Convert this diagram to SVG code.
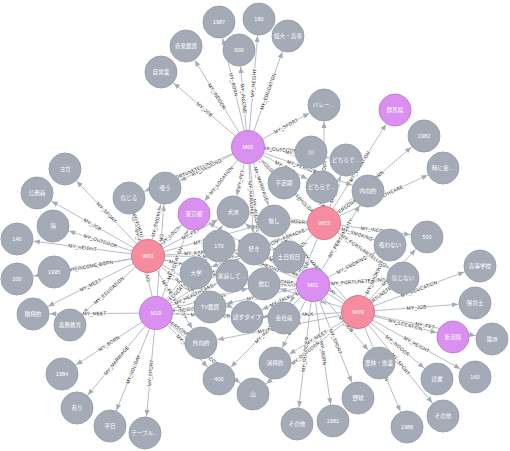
<svg xmlns="http://www.w3.org/2000/svg" width="510" height="451" viewBox="0 0 510 451">
<style>
.e{stroke:#A5ABB6;stroke-width:0.8;fill:none}
.te{marker-end:url(#ah)}
.ts{marker-start:url(#ahs)}
.lb{font-family:"Liberation Sans","Noto Sans CJK JP",sans-serif;font-size:4.9px;fill:#111;stroke:#fff;stroke-width:1.3;stroke-linejoin:round;paint-order:stroke;text-anchor:middle}
.n circle{fill:#A5ABB6;stroke:#9AA1AC;stroke-width:1}
.w circle{fill:#F58CA0;stroke:#E2748A}
.m circle{fill:#D990F0;stroke:#C47AD9}
.n text{font-family:"Liberation Sans","Noto Sans CJK JP",sans-serif;font-size:5.6px;fill:#fff;text-anchor:middle}
</style>
<defs>
<marker id="ah" markerUnits="userSpaceOnUse" markerWidth="40" markerHeight="20" refX="0" refY="0" orient="auto" overflow="visible"><path d="M-23,-2.6L-17,0L-23,2.6Z" fill="#A5ABB6"/></marker>
<marker id="ahs" markerUnits="userSpaceOnUse" markerWidth="40" markerHeight="20" refX="0" refY="0" orient="auto-start-reverse" overflow="visible"><path d="M-23,-2.6L-17,0L-23,2.6Z" fill="#A5ABB6"/></marker>
</defs>
<g id="connectors">
<path id="e1" class="e ts" d="M161 72L248 147"/>
<path id="e2" class="e ts" d="M186 46L248 147"/>
<path id="e3" class="e ts" d="M219 22L248 147"/>
<path id="e4" class="e ts" d="M239 50L248 147"/>
<path id="e5" class="e te" d="M248 147L259 19"/>
<path id="e6" class="e te" d="M248 147L288 36"/>
<path id="e7" class="e te" d="M248 147L324 105"/>
<path id="e8" class="e te" d="M248 147L311 152"/>
<path id="e9" class="e te" d="M248 147L346 160"/>
<path id="e10" class="e te" d="M248 147L284 183"/>
<path id="e11" class="e te" d="M248 147L322 187"/>
<path id="e12" class="e te" d="M248 147L368 191"/>
<path id="e13" class="e te" d="M248 147L274 221"/>
<path id="e14" class="e te" d="M248 147L264 284"/>
<path id="e15" class="e te" d="M248 147L254 249"/>
<path id="e16" class="e ts" d="M233 212L248 147"/>
<path id="e17" class="e ts" d="M194 214L248 147"/>
<path id="e18" class="e ts" d="M165 188L248 147"/>
<path id="e19" class="e ts" d="M129 198L248 147"/>
<path id="e20" class="e ts" d="M65 169L148 256"/>
<path id="e21" class="e ts" d="M37 193L148 256"/>
<path id="e22" class="e ts" d="M53 226L148 256"/>
<path id="e23" class="e ts" d="M17 239L148 256"/>
<path id="e24" class="e ts" d="M54 272L148 256"/>
<path id="e25" class="e ts" d="M17 279L148 256"/>
<path id="e26" class="e ts" d="M33 314L148 256"/>
<path id="e27" class="e ts" d="M70 325L148 256"/>
<path id="e28" class="e ts" d="M129 198L148 256"/>
<path id="e29" class="e te" d="M148 256L165 188"/>
<path id="e30" class="e te" d="M148 256L194 214"/>
<path id="e31" class="e te" d="M148 256L233 212"/>
<path id="e32" class="e te" d="M148 256L254 249"/>
<path id="e33" class="e te" d="M148 256L264 284"/>
<path id="e34" class="e te" d="M148 256L232 276"/>
<path id="e35" class="e te" d="M148 256L201 343"/>
<path id="e36" class="e te" d="M148 256L247 317"/>
<path id="e37" class="e te" d="M148 256L210 307"/>
<path id="e38" class="e te" d="M148 256L274 221"/>
<path id="e39" class="e te" d="M148 256L289 257"/>
<path id="e40" class="e ts" d="M62 374L156 313"/>
<path id="e41" class="e ts" d="M77 408L156 313"/>
<path id="e42" class="e ts" d="M110 426L156 313"/>
<path id="e43" class="e ts" d="M145 433L156 313"/>
<path id="e44" class="e te" d="M156 313L219 246"/>
<path id="e45" class="e te" d="M156 313L196 273"/>
<path id="e46" class="e te" d="M156 313L210 307"/>
<path id="e47" class="e te" d="M156 313L247 317"/>
<path id="e48" class="e te" d="M156 313L201 343"/>
<path id="e49" class="e te" d="M156 313L219 379"/>
<path id="e50" class="e te" d="M156 313L253 394"/>
<path id="e51" class="e te" d="M156 313L284 318"/>
<path id="e52" class="e te" d="M156 313L264 284"/>
<path id="e53" class="e te" d="M156 313L254 249"/>
<path id="e54" class="e te" d="M156 313L232 276"/>
<path id="e55" class="e te" d="M156 313L233 212"/>
<path id="e56" class="e te" d="M156 313L194 214"/>
<path id="e57" class="e te" d="M156 313L165 188"/>
<path id="e58" class="e ts" d="M129 198L156 313"/>
<path id="e59" class="e ts" d="M33 314L156 313"/>
<path id="e60" class="e te" d="M313 285L379 363"/>
<path id="e61" class="e te" d="M313 285L358 398"/>
<path id="e62" class="e te" d="M313 285L333 421"/>
<path id="e63" class="e ts" d="M297 424L313 285"/>
<path id="e64" class="e ts" d="M275 363L313 285"/>
<path id="e65" class="e te" d="M313 285L403 278"/>
<path id="e66" class="e te" d="M313 285L390 245"/>
<path id="e67" class="e ts" d="M219 379L313 285"/>
<path id="e68" class="e ts" d="M289 257L313 285"/>
<path id="e69" class="e ts" d="M264 284L313 285"/>
<path id="e70" class="e ts" d="M254 249L313 285"/>
<path id="e71" class="e ts" d="M219 246L313 285"/>
<path id="e72" class="e ts" d="M196 273L313 285"/>
<path id="e73" class="e ts" d="M233 212L313 285"/>
<path id="e74" class="e ts" d="M274 221L313 285"/>
<path id="e75" class="e ts" d="M194 214L313 285"/>
<path id="e76" class="e ts" d="M247 317L313 285"/>
<path id="e77" class="e te" d="M313 285L368 191"/>
<path id="e78" class="e ts" d="M232 276L313 285"/>
<path id="e79" class="e ts" d="M210 307L313 285"/>
<path id="e80" class="e te" d="M324 223L395 110"/>
<path id="e81" class="e te" d="M324 223L424 136"/>
<path id="e82" class="e te" d="M324 223L443 168"/>
<path id="e83" class="e te" d="M324 223L368 191"/>
<path id="e84" class="e te" d="M324 223L427 237"/>
<path id="e85" class="e te" d="M324 223L390 245"/>
<path id="e86" class="e te" d="M324 223L403 278"/>
<path id="e87" class="e te" d="M324 223L346 160"/>
<path id="e88" class="e ts" d="M322 187L324 223"/>
<path id="e89" class="e ts" d="M311 152L324 223"/>
<path id="e90" class="e ts" d="M324 105L324 223"/>
<path id="e91" class="e ts" d="M284 183L324 223"/>
<path id="e92" class="e ts" d="M274 221L324 223"/>
<path id="e93" class="e ts" d="M254 249L324 223"/>
<path id="e94" class="e ts" d="M264 284L324 223"/>
<path id="e95" class="e ts" d="M196 273L324 223"/>
<path id="e96" class="e ts" d="M284 318L324 223"/>
<path id="e97" class="e ts" d="M233 212L324 223"/>
<path id="e98" class="e te" d="M358 312L475 303"/>
<path id="e99" class="e te" d="M358 312L480 266"/>
<path id="e100" class="e te" d="M358 312L453 337"/>
<path id="e101" class="e te" d="M358 312L492 339"/>
<path id="e102" class="e te" d="M358 312L475 377"/>
<path id="e103" class="e te" d="M358 312L437 379"/>
<path id="e104" class="e te" d="M358 312L443 416"/>
<path id="e105" class="e te" d="M358 312L407 427"/>
<path id="e106" class="e te" d="M358 312L403 278"/>
<path id="e107" class="e te" d="M358 312L390 245"/>
<path id="e108" class="e te" d="M358 312L427 237"/>
<path id="e109" class="e ts" d="M247 317L358 312"/>
<path id="e110" class="e ts" d="M275 363L358 312"/>
<path id="e111" class="e ts" d="M253 394L358 312"/>
<path id="e112" class="e ts" d="M264 284L358 312"/>
<path id="e113" class="e ts" d="M254 249L358 312"/>
<path id="e114" class="e ts" d="M289 257L358 312"/>
<path id="e115" class="e ts" d="M274 221L358 312"/>
<path id="e116" class="e ts" d="M201 343L358 312"/>
</g>
<g id="edge-labels" class="lb">
<text dy="1.7"><textPath href="#e1" startOffset="50%">MY_JOB</textPath></text>
<text dy="1.7"><textPath href="#e2" startOffset="50%">MY_INDOOR</textPath></text>
<text dy="1.7"><textPath href="#e3" startOffset="50%">MY_BORN</textPath></text>
<text dy="1.7"><textPath href="#e4" startOffset="50%">MY_INCOME</textPath></text>
<text dy="1.7"><textPath href="#e5" startOffset="50%">MY_HEIGHT</textPath></text>
<text dy="1.7"><textPath href="#e6" startOffset="50%">MY_EDUCATION</textPath></text>
<text dy="1.7"><textPath href="#e7" startOffset="50%">MY_SPORT</textPath></text>
<text dy="1.7"><textPath href="#e8" startOffset="50%">MY_OUTDOOR</textPath></text>
<text dy="1.7"><textPath href="#e9" startOffset="50%">MY_MEET</textPath></text>
<text dy="1.7"><textPath href="#e10" startOffset="50%">MY_HOLIDAY</textPath></text>
<text dy="1.7"><textPath href="#e11" startOffset="50%">MY_TALK</textPath></text>
<text dy="1.7"><textPath href="#e12" startOffset="50%">MY_PERSONALITY</textPath></text>
<text dy="1.7"><textPath href="#e13" startOffset="50%">MY_MARRIAGE</textPath></text>
<text dy="1.7"><textPath href="#e14" startOffset="50%">MY_ALCOHOL</textPath></text>
<text dy="1.7"><textPath href="#e15" startOffset="50%">MY_KARAOKE</textPath></text>
<text dy="1.7"><textPath href="#e16" startOffset="50%">MY_PET</textPath></text>
<text dy="1.7"><textPath href="#e17" startOffset="50%">MY_LOCATION</textPath></text>
<text dy="1.7"><textPath href="#e18" startOffset="50%">MY_SMOKING</textPath></text>
<text dy="1.7"><textPath href="#e19" startOffset="50%">MY_FORTUNETELLING</textPath></text>
<text dy="1.7"><textPath href="#e20" startOffset="50%">MY_SPORT</textPath></text>
<text dy="1.7"><textPath href="#e21" startOffset="50%">MY_JOB</textPath></text>
<text dy="1.7"><textPath href="#e22" startOffset="50%">MY_OUTDOOR</textPath></text>
<text dy="1.7"><textPath href="#e23" startOffset="50%">MY_HEIGHT</textPath></text>
<text dy="1.7"><textPath href="#e24" startOffset="50%">MY_BORN</textPath></text>
<text dy="1.7"><textPath href="#e25" startOffset="50%">MY_INCOME</textPath></text>
<text dy="1.7"><textPath href="#e26" startOffset="50%">MY_MEET</textPath></text>
<text dy="1.7"><textPath href="#e27" startOffset="50%">MY_EDUCATION</textPath></text>
<text dy="1.7"><textPath href="#e28" startOffset="50%">MY_FORTU…</textPath></text>
<text dy="1.7"><textPath href="#e29" startOffset="50%">MY_SMOKI…</textPath></text>
<text dy="1.7"><textPath href="#e30" startOffset="50%">MY_LOC…</textPath></text>
<text dy="1.7"><textPath href="#e31" startOffset="50%">MY_PET</textPath></text>
<text dy="1.7"><textPath href="#e32" startOffset="50%">MY_KARAOKE</textPath></text>
<text dy="1.7"><textPath href="#e33" startOffset="50%">MY_ALCOHOL</textPath></text>
<text dy="1.7"><textPath href="#e34" startOffset="50%">MY_HEALTHCARE</textPath></text>
<text dy="1.7"><textPath href="#e35" startOffset="50%">MY_PERSONALITY</textPath></text>
<text dy="1.7"><textPath href="#e36" startOffset="50%">MY_TALK</textPath></text>
<text dy="1.7"><textPath href="#e37" startOffset="50%">MY_INDOOR</textPath></text>
<text dy="1.7"><textPath href="#e38" startOffset="50%">MY_MARRIAGE</textPath></text>
<text dy="1.7"><textPath href="#e39" startOffset="50%">MY_HOLIDAY</textPath></text>
<text dy="1.7"><textPath href="#e40" startOffset="50%">MY_BORN</textPath></text>
<text dy="1.7"><textPath href="#e41" startOffset="50%">MY_MARRIAGE</textPath></text>
<text dy="1.7"><textPath href="#e42" startOffset="50%">MY_HOLIDAY</textPath></text>
<text dy="1.7"><textPath href="#e43" startOffset="50%">MY_SPORT</textPath></text>
<text dy="1.7"><textPath href="#e44" startOffset="50%">MY_HEIGHT</textPath></text>
<text dy="1.7"><textPath href="#e45" startOffset="50%">MY_EDUCATION</textPath></text>
<text dy="1.7"><textPath href="#e46" startOffset="50%">MY_INDOOR</textPath></text>
<text dy="1.7"><textPath href="#e47" startOffset="50%">MY_TALK</textPath></text>
<text dy="1.7"><textPath href="#e48" startOffset="50%">MY_PERSONALITY</textPath></text>
<text dy="1.7"><textPath href="#e49" startOffset="50%">MY_INCOME</textPath></text>
<text dy="1.7"><textPath href="#e50" startOffset="50%">MY_OUTDOOR</textPath></text>
<text dy="1.7"><textPath href="#e51" startOffset="50%">MY_JOB</textPath></text>
<text dy="1.7"><textPath href="#e52" startOffset="50%">MY_ALCOHOL</textPath></text>
<text dy="1.7"><textPath href="#e53" startOffset="50%">MY_KARAOKE</textPath></text>
<text dy="1.7"><textPath href="#e54" startOffset="50%">MY_HEALTHCARE</textPath></text>
<text dy="1.7"><textPath href="#e55" startOffset="50%">MY_PET</textPath></text>
<text dy="1.7"><textPath href="#e56" startOffset="50%">MY_LOCATION</textPath></text>
<text dy="1.7"><textPath href="#e57" startOffset="50%">MY_SMOKING</textPath></text>
<text dy="1.7"><textPath href="#e58" startOffset="50%">MY_FORTUNETELLING</textPath></text>
<text dy="1.7"><textPath href="#e59" startOffset="50%">MY_MEET</textPath></text>
<text dy="1.7"><textPath href="#e60" startOffset="50%">MY_JOB</textPath></text>
<text dy="1.7"><textPath href="#e61" startOffset="50%">MY_SPORT</textPath></text>
<text dy="1.7"><textPath href="#e62" startOffset="50%">MY_BORN</textPath></text>
<text dy="1.7"><textPath href="#e63" startOffset="50%">MY_OUTDOOR</textPath></text>
<text dy="1.7"><textPath href="#e64" startOffset="50%">MY_MEET</textPath></text>
<text dy="1.7"><textPath href="#e65" startOffset="50%">MY_FORTUNETELLING</textPath></text>
<text dy="1.7"><textPath href="#e66" startOffset="50%">MY_SMOKING</textPath></text>
<text dy="1.7"><textPath href="#e67" startOffset="50%">MY_INCOME</textPath></text>
<text dy="1.7"><textPath href="#e68" startOffset="50%">MY_HOLIDAY</textPath></text>
<text dy="1.7"><textPath href="#e69" startOffset="50%">MY_ALCOHOL</textPath></text>
<text dy="1.7"><textPath href="#e70" startOffset="50%">MY_KARAOKE</textPath></text>
<text dy="1.7"><textPath href="#e71" startOffset="50%">MY_HEIGHT</textPath></text>
<text dy="1.7"><textPath href="#e72" startOffset="50%">MY_EDUCATION</textPath></text>
<text dy="1.7"><textPath href="#e73" startOffset="50%">MY_PET</textPath></text>
<text dy="1.7"><textPath href="#e74" startOffset="50%">MY_MARRIAGE</textPath></text>
<text dy="1.7"><textPath href="#e75" startOffset="50%">MY_LOCATION</textPath></text>
<text dy="1.7"><textPath href="#e76" startOffset="50%">MY_TALK</textPath></text>
<text dy="1.7"><textPath href="#e77" startOffset="50%">MY_PERSONALITY</textPath></text>
<text dy="1.7"><textPath href="#e78" startOffset="50%">MY_HEALTHCARE</textPath></text>
<text dy="1.7"><textPath href="#e79" startOffset="50%">MY_INDOOR</textPath></text>
<text dy="1.7"><textPath href="#e80" startOffset="50%">MY_LOCATION</textPath></text>
<text dy="1.7"><textPath href="#e81" startOffset="50%">MY_BORN</textPath></text>
<text dy="1.7"><textPath href="#e82" startOffset="50%">MY_HEALTHCARE</textPath></text>
<text dy="1.7"><textPath href="#e83" startOffset="50%">MY_PERSONALITY</textPath></text>
<text dy="1.7"><textPath href="#e84" startOffset="50%">MY_INCOME</textPath></text>
<text dy="1.7"><textPath href="#e85" startOffset="50%">MY_SMOKING</textPath></text>
<text dy="1.7"><textPath href="#e86" startOffset="50%">MY_FORTUNETELLING</textPath></text>
<text dy="1.7"><textPath href="#e87" startOffset="50%">MY_MEET</textPath></text>
<text dy="1.7"><textPath href="#e88" startOffset="50%">MY_TALK</textPath></text>
<text dy="1.7"><textPath href="#e89" startOffset="50%">MY_OUTDOOR</textPath></text>
<text dy="1.7"><textPath href="#e90" startOffset="50%">MY_SPORT</textPath></text>
<text dy="1.7"><textPath href="#e91" startOffset="50%">MY_HOLIDAY</textPath></text>
<text dy="1.7"><textPath href="#e92" startOffset="50%">MY_MARRIAGE</textPath></text>
<text dy="1.7"><textPath href="#e93" startOffset="50%">MY_KARAOKE</textPath></text>
<text dy="1.7"><textPath href="#e94" startOffset="50%">MY_ALCOHOL</textPath></text>
<text dy="1.7"><textPath href="#e95" startOffset="50%">MY_EDUCATION</textPath></text>
<text dy="1.7"><textPath href="#e96" startOffset="50%">MY_JOB</textPath></text>
<text dy="1.7"><textPath href="#e97" startOffset="50%">MY_PET</textPath></text>
<text dy="1.7"><textPath href="#e98" startOffset="50%">MY_JOB</textPath></text>
<text dy="1.7"><textPath href="#e99" startOffset="50%">MY_EDUCATION</textPath></text>
<text dy="1.7"><textPath href="#e100" startOffset="50%">MY_LOCATION</textPath></text>
<text dy="1.7"><textPath href="#e101" startOffset="50%">MY_PET</textPath></text>
<text dy="1.7"><textPath href="#e102" startOffset="50%">MY_HEIGHT</textPath></text>
<text dy="1.7"><textPath href="#e103" startOffset="50%">MY_INDOOR</textPath></text>
<text dy="1.7"><textPath href="#e104" startOffset="50%">MY_SPORT</textPath></text>
<text dy="1.7"><textPath href="#e105" startOffset="50%">MY_BORN</textPath></text>
<text dy="1.7"><textPath href="#e106" startOffset="50%">MY_FORTUNETELLING</textPath></text>
<text dy="1.7"><textPath href="#e107" startOffset="50%">MY_SMOKING</textPath></text>
<text dy="1.7"><textPath href="#e108" startOffset="50%">MY_INCOME</textPath></text>
<text dy="1.7"><textPath href="#e109" startOffset="50%">MY_TALK</textPath></text>
<text dy="1.7"><textPath href="#e110" startOffset="50%">MY_MEET</textPath></text>
<text dy="1.7"><textPath href="#e111" startOffset="50%">MY_OUTDOOR</textPath></text>
<text dy="1.7"><textPath href="#e112" startOffset="50%">MY_ALCOHOL</textPath></text>
<text dy="1.7"><textPath href="#e113" startOffset="50%">MY_KARAOKE</textPath></text>
<text dy="1.7"><textPath href="#e114" startOffset="50%">MY_HOLIDAY</textPath></text>
<text dy="1.7"><textPath href="#e115" startOffset="50%">MY_MARRIAGE</textPath></text>
<text dy="1.7"><textPath href="#e116" startOffset="50%">MY_PERSONALITY</textPath></text>
</g>
<g id="nodes">
<g id="n-jiei" class="n"><circle cx="161" cy="72" r="16"/><text x="161" y="72" dy=".35em">自営業</text></g>
<g id="n-ongaku" class="n"><circle cx="186" cy="46" r="16"/><text x="186" y="46" dy=".35em">音楽鑑賞</text></g>
<g id="n-1987" class="n"><circle cx="219" cy="22" r="16"/><text x="219" y="22" dy=".35em">1987</text></g>
<g id="n-600" class="n"><circle cx="239" cy="50" r="16"/><text x="239" y="50" dy=".35em">600</text></g>
<g id="n-180" class="n"><circle cx="259" cy="19" r="16"/><text x="259" y="19" dy=".35em">180</text></g>
<g id="n-tandai" class="n"><circle cx="288" cy="36" r="16"/><text x="288" y="36" dy=".35em">短大・高専</text></g>
<g id="n-volley" class="n"><circle cx="324" cy="105" r="16"/><text x="324" y="105" dy=".35em">バレー…</text></g>
<g id="n-kawa" class="n"><circle cx="311" cy="152" r="16"/><text x="311" y="152" dy=".35em">川</text></g>
<g id="n-dochiA" class="n"><circle cx="346" cy="160" r="16"/><text x="346" y="160" dy=".35em">どちらで…</text></g>
<g id="n-futeiki" class="n"><circle cx="284" cy="183" r="16"/><text x="284" y="183" dy=".35em">不定期</text></g>
<g id="n-dochiB" class="n"><circle cx="322" cy="187" r="16"/><text x="322" y="187" dy=".35em">どちらで…</text></g>
<g id="n-naikou" class="n"><circle cx="368" cy="191" r="16"/><text x="368" y="191" dy=".35em">内向的</text></g>
<g id="n-tokini" class="n"><circle cx="443" cy="168" r="16"/><text x="443" y="168" dy=".35em">時に会…</text></g>
<g id="n-1983" class="n"><circle cx="424" cy="136" r="16"/><text x="424" y="136" dy=".35em">1983</text></g>
<g id="n-500" class="n"><circle cx="427" cy="237" r="16"/><text x="427" y="237" dy=".35em">500</text></g>
<g id="n-suwanai" class="n"><circle cx="390" cy="245" r="16"/><text x="390" y="245" dy=".35em">吸わない</text></g>
<g id="n-shinjinai" class="n"><circle cx="403" cy="278" r="16"/><text x="403" y="278" dy=".35em">信じない</text></g>
<g id="n-koukou" class="n"><circle cx="480" cy="266" r="16"/><text x="480" y="266" dy=".35em">高等学校</text></g>
<g id="n-hoiku" class="n"><circle cx="475" cy="303" r="16"/><text x="475" y="303" dy=".35em">保育士</text></g>
<g id="n-neko" class="n"><circle cx="492" cy="339" r="16"/><text x="492" y="339" dy=".35em">猫派</text></g>
<g id="n-160" class="n"><circle cx="475" cy="377" r="16"/><text x="475" y="377" dy=".35em">160</text></g>
<g id="n-dokusho" class="n"><circle cx="437" cy="379" r="16"/><text x="437" y="379" dy=".35em">読書</text></g>
<g id="n-sonotaA" class="n"><circle cx="443" cy="416" r="16"/><text x="443" y="416" dy=".35em">その他</text></g>
<g id="n-1988" class="n"><circle cx="407" cy="427" r="16"/><text x="407" y="427" dy=".35em">1988</text></g>
<g id="n-nouson" class="n"><circle cx="379" cy="363" r="16"/><text x="379" y="363" dy=".35em">農林・漁業</text></g>
<g id="n-yakyu" class="n"><circle cx="358" cy="398" r="16"/><text x="358" y="398" dy=".35em">野球</text></g>
<g id="n-1981" class="n"><circle cx="333" cy="421" r="16"/><text x="333" y="421" dy=".35em">1981</text></g>
<g id="n-sonotaB" class="n"><circle cx="297" cy="424" r="16"/><text x="297" y="424" dy=".35em">その他</text></g>
<g id="n-shoukyoku" class="n"><circle cx="275" cy="363" r="16"/><text x="275" y="363" dy=".35em">消極的</text></g>
<g id="n-yama" class="n"><circle cx="253" cy="394" r="16"/><text x="253" y="394" dy=".35em">山</text></g>
<g id="n-400" class="n"><circle cx="219" cy="379" r="16"/><text x="219" y="379" dy=".35em">400</text></g>
<g id="n-gaikou" class="n"><circle cx="201" cy="343" r="16"/><text x="201" y="343" dy=".35em">外向的</text></g>
<g id="n-tv" class="n"><circle cx="210" cy="307" r="16"/><text x="210" y="307" dy=".35em">TV鑑賞</text></g>
<g id="n-hanasu" class="n"><circle cx="247" cy="317" r="16"/><text x="247" y="317" dy=".35em">話すタイプ</text></g>
<g id="n-kaisha" class="n"><circle cx="284" cy="318" r="16"/><text x="284" y="318" dy=".35em">会社員</text></g>
<g id="n-nomu" class="n"><circle cx="264" cy="284" r="16"/><text x="264" y="284" dy=".35em">飲む</text></g>
<g id="n-katei" class="n"><circle cx="232" cy="276" r="16"/><text x="232" y="276" dy=".35em">家庭して…</text></g>
<g id="n-daigaku" class="n"><circle cx="196" cy="273" r="16"/><text x="196" y="273" dy=".35em">大学</text></g>
<g id="n-170" class="n"><circle cx="219" cy="246" r="16"/><text x="219" y="246" dy=".35em">170</text></g>
<g id="n-suki" class="n"><circle cx="254" cy="249" r="16"/><text x="254" y="249" dy=".35em">好き</text></g>
<g id="n-donichi" class="n"><circle cx="289" cy="257" r="16"/><text x="289" y="257" dy=".35em">土日祝日</text></g>
<g id="n-inu" class="n"><circle cx="233" cy="212" r="16"/><text x="233" y="212" dy=".35em">犬派</text></g>
<g id="n-nashi" class="n"><circle cx="274" cy="221" r="16"/><text x="274" y="221" dy=".35em">無し</text></g>
<g id="n-suu" class="n"><circle cx="165" cy="188" r="16"/><text x="165" y="188" dy=".35em">吸う</text></g>
<g id="n-shinjiru" class="n"><circle cx="129" cy="198" r="16"/><text x="129" y="198" dy=".35em">信じる</text></g>
<g id="n-yoga" class="n"><circle cx="65" cy="169" r="16"/><text x="65" y="169" dy=".35em">ヨガ</text></g>
<g id="n-koumu" class="n"><circle cx="37" cy="193" r="16"/><text x="37" y="193" dy=".35em">公務員</text></g>
<g id="n-umi" class="n"><circle cx="53" cy="226" r="16"/><text x="53" y="226" dy=".35em">海</text></g>
<g id="n-140" class="n"><circle cx="17" cy="239" r="16"/><text x="17" y="239" dy=".35em">140</text></g>
<g id="n-1995" class="n"><circle cx="54" cy="272" r="16"/><text x="54" y="272" dy=".35em">1995</text></g>
<g id="n-300" class="n"><circle cx="17" cy="279" r="16"/><text x="17" y="279" dy=".35em">300</text></g>
<g id="n-sekkyoku" class="n"><circle cx="33" cy="314" r="16"/><text x="33" y="314" dy=".35em">積極的</text></g>
<g id="n-gimu" class="n"><circle cx="70" cy="325" r="16"/><text x="70" y="325" dy=".35em">義務教育</text></g>
<g id="n-1984" class="n"><circle cx="62" cy="374" r="16"/><text x="62" y="374" dy=".35em">1984</text></g>
<g id="n-ari" class="n"><circle cx="77" cy="408" r="16"/><text x="77" y="408" dy=".35em">有り</text></g>
<g id="n-heijitsu" class="n"><circle cx="110" cy="426" r="16"/><text x="110" y="426" dy=".35em">平日</text></g>
<g id="n-table" class="n"><circle cx="145" cy="433" r="16"/><text x="145" y="433" dy=".35em">テーブル…</text></g>
<g id="n-gunma" class="n m"><circle cx="395" cy="110" r="16"/><text x="395" y="110" dy=".35em">群馬県</text></g>
<g id="n-tokyo" class="n m"><circle cx="194" cy="214" r="16"/><text x="194" y="214" dy=".35em">東京都</text></g>
<g id="n-niigata" class="n m"><circle cx="453" cy="337" r="16"/><text x="453" y="337" dy=".35em">新潟県</text></g>
<g id="n-M00" class="n m"><circle cx="248" cy="147" r="16.5"/><text x="248" y="147" dy=".35em">M00</text></g>
<g id="n-M01" class="n m"><circle cx="313" cy="285" r="16.5"/><text x="313" y="285" dy=".35em">M01</text></g>
<g id="n-M19" class="n m"><circle cx="156" cy="313" r="16.5"/><text x="156" y="313" dy=".35em">M19</text></g>
<g id="n-W01" class="n w"><circle cx="148" cy="256" r="16.5"/><text x="148" y="256" dy=".35em">W01</text></g>
<g id="n-W03" class="n w"><circle cx="324" cy="223" r="16.5"/><text x="324" y="223" dy=".35em">W03</text></g>
<g id="n-W09" class="n w"><circle cx="358" cy="312" r="16.5"/><text x="358" y="312" dy=".35em">W09</text></g>
</g>
</svg>
